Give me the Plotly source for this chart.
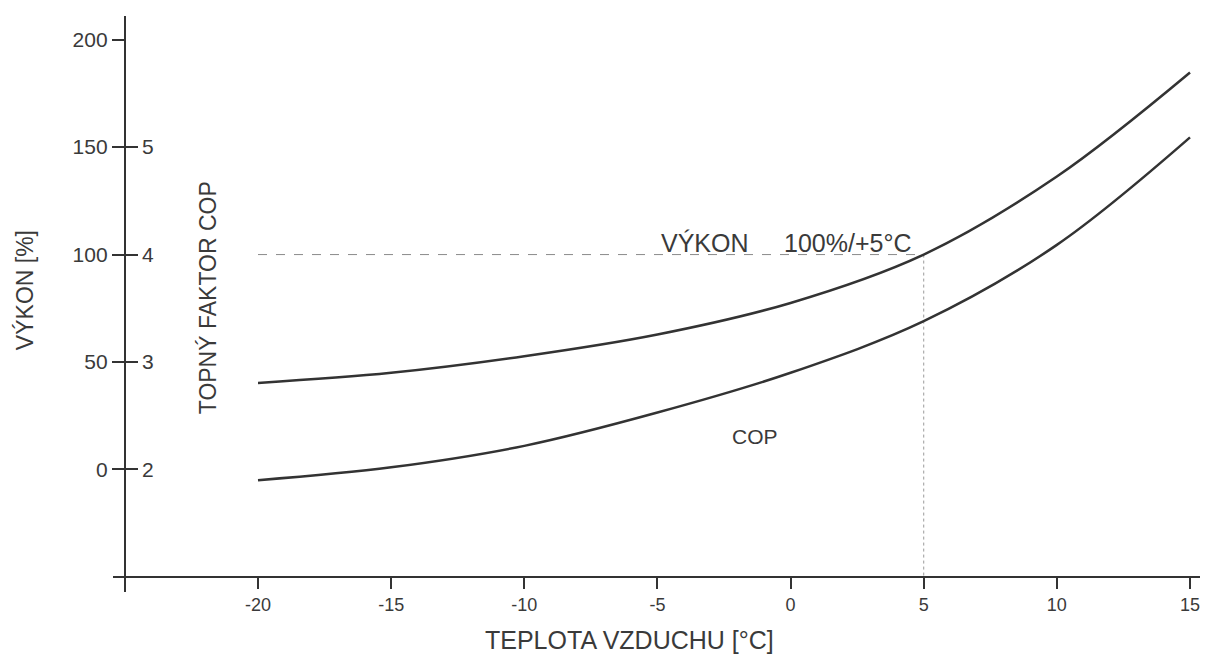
import plotly.graph_objects as go

# ---- data ----
temps = [-20, -15, -10, -5, 0, 5, 10, 15]
vykon = [40.3, 45.0, 52.7, 62.8, 77.5, 100.0, 136.3, 184.7]   # VÝKON [%]
cop = [1.90, 2.02, 2.22, 2.53, 2.90, 3.38, 4.09, 5.09]        # TOPNÝ FAKTOR COP

x_ticks = [-20, -15, -10, -5, 0, 5, 10, 15]
y_ticks = [0, 50, 100, 150, 200]
cop_ticks = [2, 3, 4, 5]

ref_temp = [-20, 5]
ref_level = [100, 100]
ref_vert_x = [5, 5]
ref_vert_y = [100, -50]

# ---- layout constants ----
X_RANGE = [-25.445, 15.375]
Y_RANGE = [-57, 211]
X_AXIS_AT = -50      # y value where the temperature axis is drawn
Y_AXIS_AT = -25.0    # x value where the vertical axis is drawn
COP_RANGE = [2 + Y_RANGE[0] / 50, 2 + Y_RANGE[1] / 50]

FONT = "Liberation Sans, Arial, sans-serif"
TXT = "#3a3a3a"
LINE = "#333333"

fig = go.Figure()
fig.add_trace(go.Scatter(x=ref_temp, y=ref_level, mode="lines",
                         line=dict(color="#8a8a8a", width=1, dash="dash"),
                         hoverinfo="skip", showlegend=False))
fig.add_trace(go.Scatter(x=ref_vert_x, y=ref_vert_y, mode="lines",
                         line=dict(color="#9a9a9a", width=1, dash="dot"),
                         hoverinfo="skip", showlegend=False))
fig.add_trace(go.Scatter(x=temps, y=vykon, mode="lines", name="VÝKON",
                         line=dict(color=LINE, width=2.5, shape="spline", smoothing=1.0),
                         showlegend=False))
fig.add_trace(go.Scatter(x=temps, y=cop, mode="lines", name="COP", yaxis="y2",
                         line=dict(color=LINE, width=2.5, shape="spline", smoothing=1.0),
                         showlegend=False))

xpos = (X_AXIS_AT - Y_RANGE[0]) / (Y_RANGE[1] - Y_RANGE[0])
ypos = (Y_AXIS_AT - X_RANGE[0]) / (X_RANGE[1] - X_RANGE[0])

ann = dict(showarrow=False, xanchor="center", yanchor="middle")

fig.update_layout(
    width=1201, height=648,
    margin=dict(l=105, r=9, t=8, b=64),
    paper_bgcolor="white", plot_bgcolor="white",
    font=dict(family=FONT, color=TXT, size=19),
    xaxis=dict(range=X_RANGE, anchor="free", position=xpos, automargin=False,
               showline=True, linecolor=LINE, linewidth=2,
               ticks="outside", ticklen=11, tickwidth=1.5, tickcolor=LINE,
               tickvals=x_ticks, ticktext=[str(v) for v in x_ticks],
               ticklabeloverflow="allow",
               showgrid=False, zeroline=False,
               tickfont=dict(size=18)),
    yaxis=dict(range=Y_RANGE, anchor="free", position=ypos, side="left", automargin=False,
               showline=True, linecolor=LINE, linewidth=2,
               ticks="outside", ticklen=12, tickwidth=1.5, tickcolor=LINE,
               tickvals=y_ticks, showgrid=False, zeroline=False,
               tickfont=dict(size=21)),
    yaxis2=dict(range=COP_RANGE, overlaying="y", anchor="free", position=ypos, side="right",
                automargin=False,
                showline=False, ticks="outside", ticklen=12, tickwidth=1.5, tickcolor=LINE,
                tickvals=cop_ticks, showgrid=False, zeroline=False,
                tickfont=dict(size=21)),
    annotations=[
        dict(x=-3.21, y=105.5, xref="x", yref="y", text="VÝKON",
             font=dict(size=25, color=TXT), **ann),
        dict(x=2.155, y=105.5, xref="x", yref="y", text="100%/+5°C",
             font=dict(size=25, color=TXT), **ann),
        dict(x=-1.34, y=15.3, xref="x", yref="y", text="COP",
             font=dict(size=21, color=TXT), **ann),
        # axis titles
        dict(x=-0.081, y=0.524, xref="paper", yref="paper", text="VÝKON [%]",
             textangle=-90, font=dict(size=23, color=TXT), **ann),
        dict(x=0.0874, y=0.510, xref="paper", yref="paper", text="TOPNÝ FAKTOR COP",
             textangle=-90, font=dict(size=23, color=TXT), **ann),
        dict(x=0.4756, y=-0.1105, xref="paper", yref="paper", text="TEPLOTA VZDUCHU [°C]",
             showarrow=False, xanchor="center", yanchor="bottom",
             font=dict(size=25, color=TXT)),
    ],
)

fig.write_html("out.html")
